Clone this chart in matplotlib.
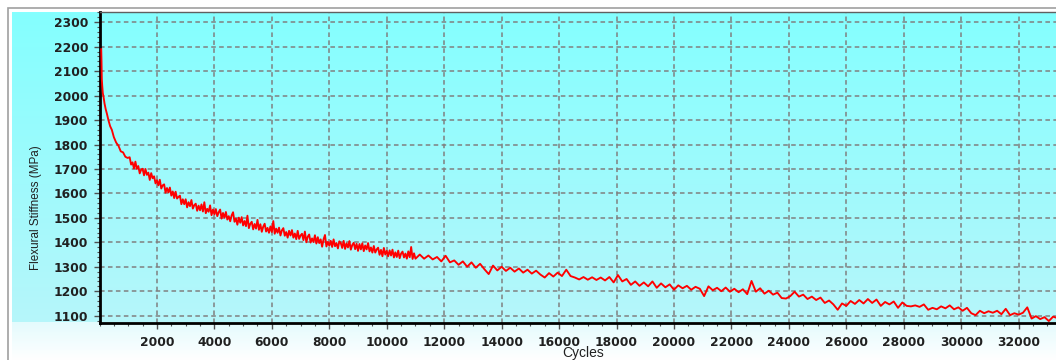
import numpy as np
import matplotlib
matplotlib.use('Agg')
import matplotlib.pyplot as plt
from matplotlib.patches import Rectangle
from matplotlib.ticker import MultipleLocator
from matplotlib.colors import LinearSegmentedColormap
from matplotlib.font_manager import FontProperties

# --- data ------------------------------------------------------------------
head_cycles = [60, 70, 80, 95, 115, 140, 175, 215, 260, 310, 370, 430, 500,
               580, 660, 740, 820, 900, 980]
head_stiffness = [2190, 2140, 2068, 2040, 2010, 1995, 1968, 1945, 1925, 1900,
                  1875, 1860, 1830, 1808, 1795, 1772, 1768, 1750, 1745]

# logged every 50 cycles from 1050 to 11000
mid_cycles = np.arange(1050, 11001, 50)
mid_stiffness = [
    1748, 1718, 1727, 1702, 1730, 1700, 1712, 1682, 1697, 1701,
    1674, 1700, 1676, 1685, 1655, 1683, 1662, 1670, 1641, 1654,
    1633, 1656, 1620, 1633, 1637, 1603, 1622, 1604, 1624, 1591,
    1608, 1581, 1607, 1579, 1586, 1591, 1556, 1576, 1556, 1576,
    1543, 1564, 1548, 1573, 1538, 1552, 1558, 1529, 1550, 1531,
    1555, 1526, 1564, 1519, 1537, 1525, 1551, 1511, 1534, 1514,
    1536, 1507, 1523, 1534, 1497, 1520, 1500, 1524, 1493, 1507,
    1486, 1510, 1523, 1484, 1497, 1472, 1501, 1480, 1503, 1469,
    1487, 1466, 1509, 1458, 1476, 1484, 1453, 1475, 1456, 1492,
    1451, 1474, 1443, 1464, 1476, 1444, 1459, 1439, 1465, 1442,
    1487, 1435, 1456, 1439, 1460, 1428, 1449, 1458, 1427, 1442,
    1419, 1447, 1428, 1450, 1419, 1436, 1413, 1447, 1414, 1428,
    1435, 1409, 1444, 1400, 1423, 1432, 1399, 1416, 1401, 1429,
    1395, 1421, 1397, 1412, 1382, 1412, 1430, 1383, 1402, 1386,
    1406, 1381, 1412, 1384, 1397, 1375, 1404, 1397, 1377, 1406,
    1373, 1396, 1379, 1405, 1370, 1389, 1398, 1372, 1394, 1365,
    1393, 1371, 1396, 1364, 1387, 1371, 1397, 1363, 1379, 1358,
    1385, 1358, 1371, 1378, 1349, 1369, 1343, 1377, 1350, 1365,
    1343, 1367, 1346, 1370, 1338, 1359, 1340, 1366, 1335, 1354,
    1362, 1338, 1354, 1333, 1363, 1339, 1381, 1332, 1355, 1333,
]

# logged every 150 cycles from 11150 to 33350
tail_cycles = np.arange(11150, 33351, 150)
tail_stiffness = [
    1350, 1333, 1346, 1330, 1340, 1322, 1345, 1318, 1326, 1308,
    1322, 1300, 1318, 1296, 1312, 1290, 1270, 1305, 1285, 1300,
    1283, 1296, 1280, 1293, 1276, 1288, 1272, 1284, 1268, 1256,
    1274, 1260, 1276, 1262, 1288, 1262, 1256, 1248, 1258, 1247,
    1257, 1246, 1256, 1244, 1258, 1236, 1266, 1240, 1250, 1226,
    1240, 1222, 1236, 1220, 1240, 1214, 1232, 1216, 1228, 1206,
    1224, 1212, 1222, 1206, 1218, 1210, 1180, 1220, 1204, 1214,
    1200, 1215, 1198, 1210, 1196, 1208, 1188, 1242, 1198, 1212,
    1190, 1202, 1186, 1194, 1172, 1170, 1180, 1198, 1178, 1186,
    1168, 1178, 1164, 1174, 1152, 1162, 1146, 1124, 1150, 1140,
    1160, 1148, 1164, 1150, 1168, 1152, 1166, 1140, 1156, 1146,
    1158, 1132, 1154, 1140, 1138, 1142, 1136, 1146, 1124, 1132,
    1126, 1138, 1130, 1142, 1126, 1134, 1120, 1132, 1110, 1102,
    1120, 1110, 1118, 1112, 1120, 1106, 1128, 1102, 1110, 1104,
    1112, 1134, 1088, 1098, 1086, 1094, 1078, 1096, 1090,
]

cycles = np.concatenate([head_cycles, mid_cycles, tail_cycles])
stiffness = np.concatenate([head_stiffness, mid_stiffness, tail_stiffness])

x_ticks = list(range(2000, 32001, 2000))
y_ticks = list(range(1100, 2301, 100))

# --- figure ------------------------------------------------------------------
W, H = 1056, 360
fig = plt.figure(figsize=(W / 100, H / 100), dpi=100, facecolor='white')

def fbox(x0, y0, x1, y1):
    # pixel box (top-left origin) -> figure fraction [l, b, w, h]
    return [x0 / W, 1 - y1 / H, (x1 - x0) / W, (y1 - y0) / H]

# outer frame
fig.patches.append(Rectangle((8 / W, -0.1), 1.1, 1 - 7.5 / H + 0.1,
                             transform=fig.transFigure, fill=False,
                             edgecolor='#a0a0a0', linewidth=1.2))

# gradient panel behind plot + tick labels
bg = fig.add_axes(fbox(12, 12, W, 322))
bg.imshow(np.linspace(0, 1, 256).reshape(-1, 1), aspect='auto',
          cmap=LinearSegmentedColormap.from_list('bg', ['#84ffff', '#b6f6fa']),
          extent=[0, 1, 0, 1])
bg.axis('off')

low = fig.add_axes(fbox(12, 322, W, H))
low.imshow(np.linspace(0, 1, 64).reshape(-1, 1), aspect='auto',
           cmap=LinearSegmentedColormap.from_list('low', ['#e4fbfd', '#ffffff']),
           extent=[0, 1, 0, 1])
low.axis('off')

ax = fig.add_axes(fbox(99.5, 12, W, 323))
ax.patch.set_alpha(0)
ax.plot(cycles, stiffness, color='#ff0000', linewidth=1.35, zorder=3)

ax.set_xlim(0, 33300)
ax.set_ylim(1070, 2342)
ax.set_xticks(x_ticks)
ax.set_yticks(y_ticks)
ax.xaxis.set_minor_locator(MultipleLocator(500))
ax.yaxis.set_minor_locator(MultipleLocator(20))

ax.grid(True, which='major', color='#808080', linestyle=(0, (3, 2.2)),
        linewidth=1.1)

for s in ('left', 'bottom'):
    ax.spines[s].set_linewidth(2)
    ax.spines[s].set_color('black')
ax.spines['right'].set_visible(False)
ax.spines['top'].set_color('#606060')
ax.spines['top'].set_linewidth(1)

ax.tick_params(axis='both', which='major', direction='out', colors='#505050',
               labelcolor='#202020', width=1, length=4)
ax.tick_params(axis='both', which='minor', direction='out', colors='#505050',
               width=0.8, length=2)
ax.tick_params(axis='x', pad=5)
ax.tick_params(axis='y', pad=4)
tick_font = FontProperties(family='DejaVu Sans', weight='bold', size=8.8)
for lab in ax.get_xticklabels() + ax.get_yticklabels():
    lab.set_fontproperties(tick_font)

fig.text(36.5 / W, 1 - 208 / H, 'Flexural Stiffness (MPa)', rotation=90,
         ha='center', va='center', family='Liberation Sans', fontsize=8.4,
         color='#202020')
fig.text(583.5 / W, 1 - 357.5 / H, 'Cycles', ha='center', va='baseline',
         family='Liberation Sans', fontsize=10, color='#202020')

fig.savefig('out.png', dpi=100, facecolor='white')
